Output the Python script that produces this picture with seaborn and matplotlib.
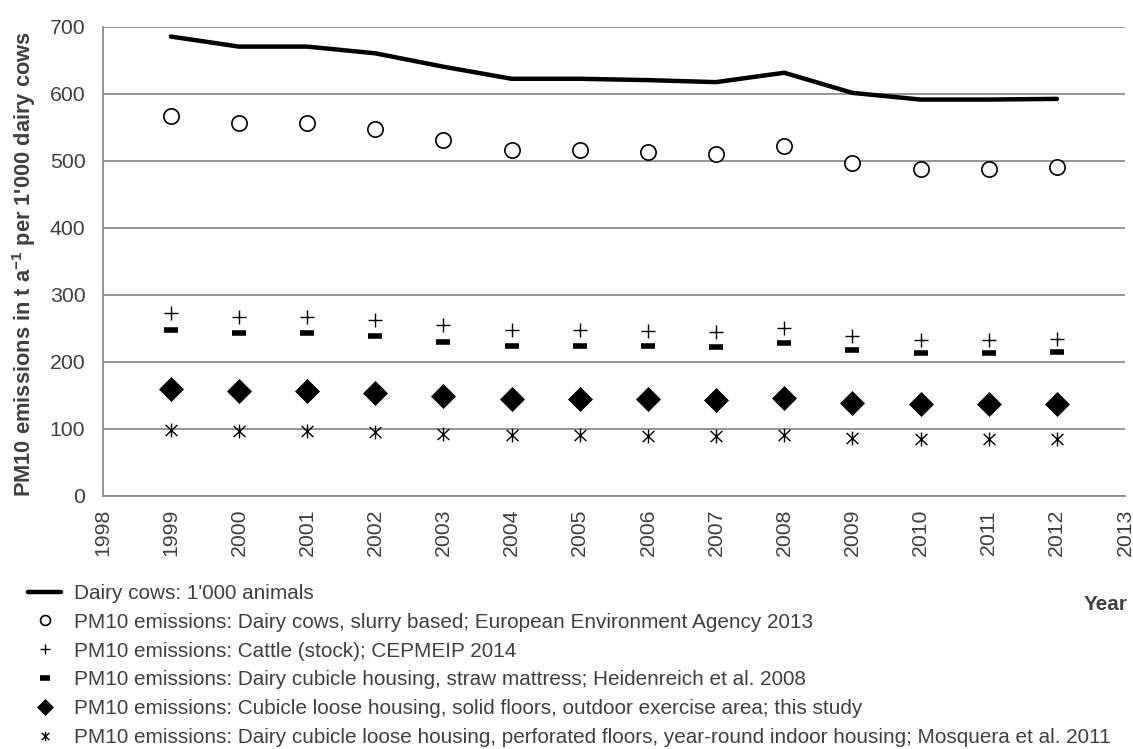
import matplotlib
matplotlib.use("Agg")
import matplotlib.pyplot as plt
from matplotlib.path import Path
import seaborn as sns
import pandas as pd

years = [1999, 2000, 2001, 2002, 2003, 2004, 2005, 2006, 2007, 2008, 2009, 2010, 2011, 2012]
dairy_cows = [685, 670, 670, 660, 640, 622, 622, 620, 617, 631, 601, 591, 591, 592]
eea_slurry = [567, 556, 556, 547, 530, 516, 516, 513, 510, 522, 497, 488, 488, 490]
cepmeip_cattle = [272, 266, 266, 262, 254, 247, 247, 246, 244, 250, 239, 233, 233, 234]
heidenreich = [247, 242, 242, 238, 230, 224, 224, 223, 222, 228, 217, 213, 213, 214]
this_study = [159, 156, 156, 153, 148, 145, 145, 144, 143, 146, 139, 137, 137, 137]
mosquera = [98, 96, 96, 95, 92, 90, 90, 89, 89, 91, 86, 85, 85, 85]

labels = [
    "Dairy cows: 1'000 animals",
    "PM10 emissions: Dairy cows, slurry based; European Environment Agency 2013",
    "PM10 emissions: Cattle (stock); CEPMEIP 2014",
    "PM10 emissions: Dairy cubicle housing, straw mattress; Heidenreich et al. 2008",
    "PM10 emissions: Cubicle loose housing, solid floors, outdoor exercise area; this study",
    "PM10 emissions: Dairy cubicle loose housing, perforated floors, year-round indoor housing; Mosquera et al. 2011",
]
x_ticks = list(range(1998, 2014))
y_ticks = [0, 100, 200, 300, 400, 500, 600, 700]

sns.set_style("white")
plt.rcParams["font.family"] = ["Liberation Sans", "DejaVu Sans"]
plt.rcParams["mathtext.fontset"] = "custom"
plt.rcParams["mathtext.rm"] = "Liberation Sans"
plt.rcParams["mathtext.bf"] = "Liberation Sans:bold"

df = pd.DataFrame({"year": years, "cows": dairy_cows, "eea": eea_slurry,
                   "cep": cepmeip_cattle, "hei": heidenreich, "this": this_study,
                   "mos": mosquera})

star = Path([(0, -1), (0, 1), (-0.85, -0.8), (0.85, 0.8), (-0.85, 0.8), (0.85, -0.8)],
            [Path.MOVETO, Path.LINETO, Path.MOVETO, Path.LINETO, Path.MOVETO, Path.LINETO])

fig = plt.figure(figsize=(11.33, 7.49), dpi=100)
ax = fig.add_axes([102.7 / 1133, 1 - 495.7 / 749, (1125 - 102.7) / 1133, (495.7 - 26.5) / 749])

grey = "#8c8c8c"
txt = "#404040"
fs = 14.95

sns.lineplot(data=df, x="year", y="cows", ax=ax, color="black", lw=3.2, label=labels[0])
sns.lineplot(data=df, x="year", y="eea", ax=ax, linestyle="none", marker="o", ms=11,
             mfc="white", mec="black", mew=1.2, label=labels[1])
sns.lineplot(data=df, x="year", y="cep", ax=ax, linestyle="none", marker="+", ms=10,
             mec="black", mew=1.0, label=labels[2])
sns.lineplot(data=df, x="year", y="hei", ax=ax, linestyle="none", marker="_", ms=10,
             mec="black", mew=4, label=labels[3])
sns.lineplot(data=df, x="year", y="this", ax=ax, linestyle="none", marker="D", ms=12.5,
             mfc="black", mec="black", mew=0.5, label=labels[4])
sns.lineplot(data=df, x="year", y="mos", ax=ax, linestyle="none", marker=star, ms=10,
             mfc="none", mec="black", mew=1.0, label=labels[5])

ax.set_xlim(1998, 2013)
ax.set_ylim(0, 700)
ax.set_xticks(x_ticks)
ax.set_xticklabels([str(t) for t in x_ticks], rotation=90)
ax.set_yticks(y_ticks)
ax.yaxis.grid(True, color=grey, lw=1.3)
ax.xaxis.grid(False)
for s in ["top", "right"]:
    ax.spines[s].set_visible(False)
for s in ["left", "bottom"]:
    ax.spines[s].set_color(grey)
    ax.spines[s].set_linewidth(1.3)
ax.tick_params(axis="both", which="major", direction="out", length=4.5, width=1.3,
               color=grey, labelsize=15.3, labelcolor=txt)
ax.tick_params(axis="y", pad=8)
ax.tick_params(axis="x", pad=5)
ax.set_xlabel("")
ax.set_ylabel("")

fig.text(24 / 1133, 1 - 264 / 749,
         r"PM10 emissions in t a$^{\mathbf{-1}}$ per 1'000 dairy cows",
         rotation=90, ha="center", va="center", fontsize=15.75, fontweight="bold", color=txt)
fig.text(1128 / 1133, 1 - 605 / 749, "Year", ha="right", va="center",
         fontsize=fs, fontweight="bold", color=txt)

handles, labs = ax.get_legend_handles_labels()
ax.get_legend().remove()
fig.legend(handles, labs, loc="upper left", bbox_to_anchor=(28 / 1133, 1 - 584 / 749),
           frameon=False, fontsize=fs, labelcolor=txt, handlelength=1.6,
           handletextpad=0.6, labelspacing=0.47, borderpad=0, borderaxespad=0,
           markerscale=0.65)

fig.savefig("out.png", dpi=100)
